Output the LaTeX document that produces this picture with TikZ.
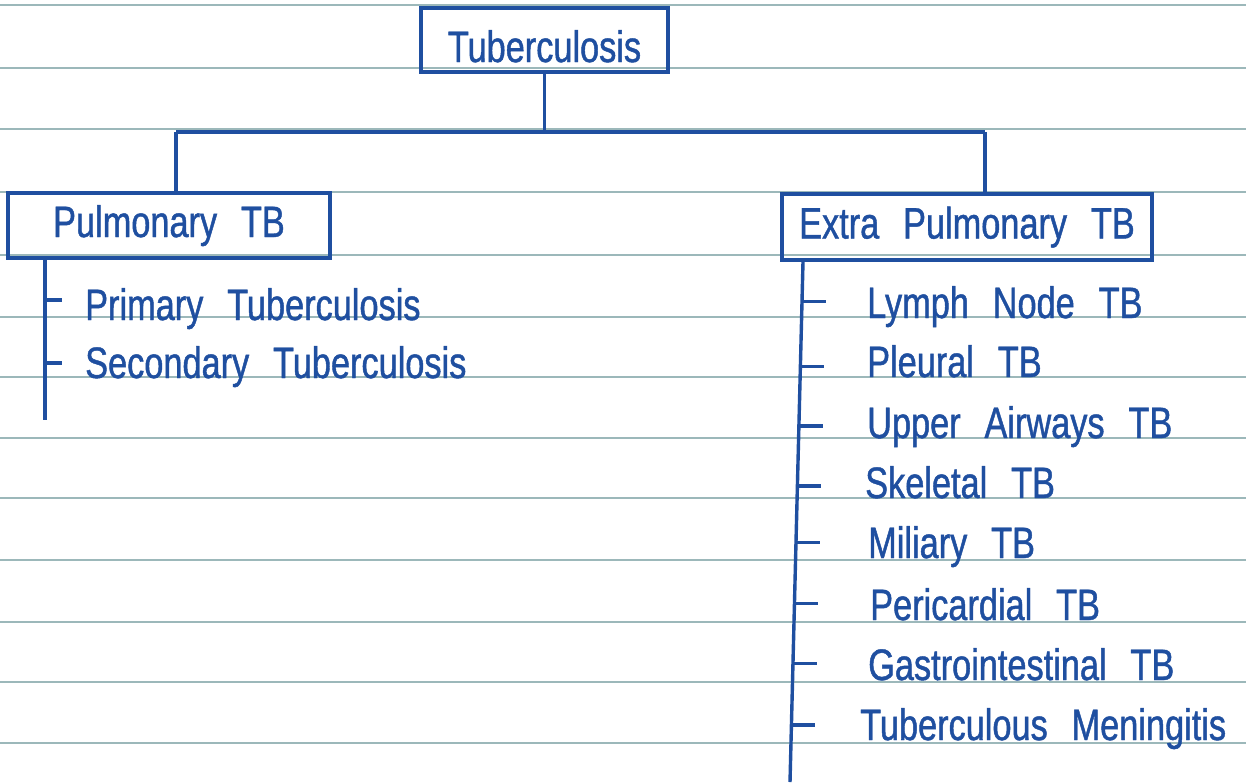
\documentclass[tikz,border=0pt]{standalone}
\usepackage{fontspec}
\setmainfont{Liberation Sans}[FakeStretch=0.78,WordSpace=2.5,FakeBold=1]
\usetikzlibrary{calc}
\definecolor{ink}{HTML}{1F4FA0}
\definecolor{ruleline}{HTML}{9CB8BA}
\newcommand\hwfont{\fontsize{44}{50}\selectfont}
\begin{document}
\begin{tikzpicture}[x=1pt,y=-1pt,
  box/.style={draw=ink, line width=3.4pt, text=ink, font=\hwfont, inner sep=2pt,
              text height=32pt, text depth=9pt},
  item/.style={anchor=base west, text=ink, font=\hwfont, inner sep=0pt},
  link/.style={draw=ink, line width=3.4pt},
  ruled/.style={draw=ruleline, line width=2pt}]
\useasboundingbox (0,0) rectangle (1246,782);
\fill[white] (0,0) rectangle (1246,782);
% notebook ruling
\foreach \y in {5,68,129,192,255,317,377,438,498,560,622,682,743}
  \draw[ruled] (0,\y) -- (1246,\y);
% boxes
\node[box, minimum width=247pt, minimum height=64pt, text height=44pt, text depth=0pt] (root) at (544.5,40) {Tuberculosis};
\node[box, minimum width=322pt, minimum height=65pt] (pulm) at (169,225.5) {Pulmonary TB};
\node[box, minimum width=370pt, minimum height=66pt] (extra) at (967,227) {Extra Pulmonary TB};
% tree connectors
\coordinate (busL) at (176,132);
\coordinate (busR) at (985,132);
\draw[link] (root.south) -- (root.south |- busL);
\draw[link] (busL) -- (busR);
\draw[link] (busL) -- (busL |- pulm.north);
\draw[link] (busR) -- (busR |- extra.north);
% left list
\coordinate (lbot) at (45,420);
\draw[link] (pulm.south -| lbot) -- (lbot);
\node[item] (p1) at (85,320) {Primary Tuberculosis};
\node[item] (p2) at (85,378) {Secondary Tuberculosis};
\coordinate (lt1) at (45,300);
\coordinate (lt2) at (45,363);
\draw[link] (lt1) -- ++(17,0);
\draw[link] (lt2) -- ++(17,0);
% right list
\coordinate (rtop) at ([xshift=-164pt]extra.south);
\coordinate (rbot) at (790,782);
\draw[link] (rtop) -- (rbot);
\foreach \t/\b/\x/\ty [count=\i] in {Lymph Node TB/318/867/300,
    Pleural TB/377/867/365,
    Upper Airways TB/438/867/425,
    Skeletal TB/498/865/485,
    Miliary TB/558/868/542,
    Pericardial TB/620/870/603,
    Gastrointestinal TB/680/868/663,
    Tuberculous Meningitis/740/860/725}{
  \node[item] (e\i) at (\x,\b) {\t};
  \coordinate (et\i) at ($(rtop)!{(\ty-260)/522}!(rbot)$);
  \draw[link] (et\i) -- ++(24,0);
}
\end{tikzpicture}
\end{document}
